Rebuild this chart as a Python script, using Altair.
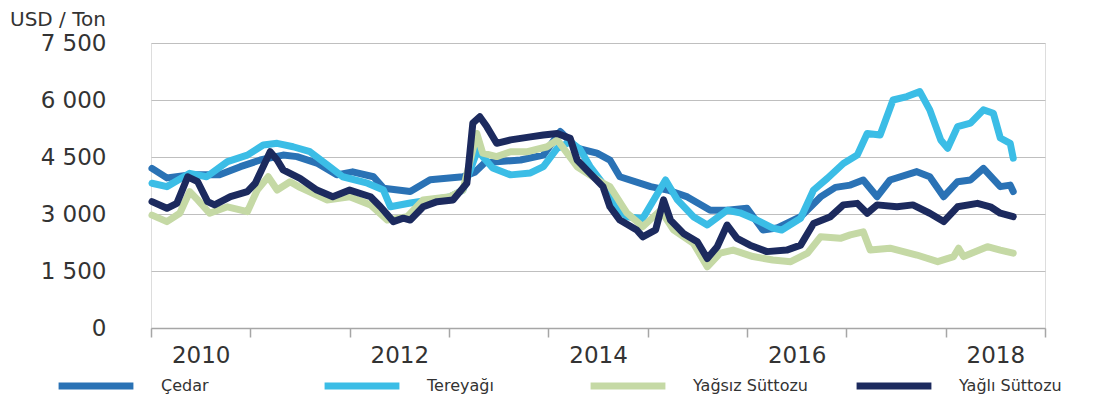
import altair as alt
import pandas as pd

# ---- data (decimal years, USD / ton) ----
cedar_x = [2010.01, 2010.16, 2010.39, 2010.69, 2010.90, 2011.10, 2011.33, 2011.47, 2011.67, 2011.87,
           2012.03, 2012.24, 2012.34, 2012.61, 2012.81, 2013.14, 2013.26, 2013.36, 2013.51, 2013.72,
           2013.95, 2014.12, 2014.29, 2014.49, 2014.62, 2014.72, 2015.03, 2015.20, 2015.40, 2015.63,
           2015.80, 2016.00, 2016.16, 2016.30, 2016.54, 2016.74, 2016.89, 2017.04, 2017.17, 2017.31,
           2017.44, 2017.71, 2017.84, 2017.98, 2018.12, 2018.25, 2018.38, 2018.55, 2018.65, 2018.68]
cedar_y = [4200, 3950, 4030, 4030, 4245, 4420, 4550, 4510, 4340, 4030,
           4110, 3980, 3680, 3590, 3900, 3980, 4100, 4350, 4380, 4420,
           4550, 5170, 4730, 4600, 4420, 3980, 3720, 3630, 3450, 3100,
           3100, 3150, 2580, 2630, 2930, 3450, 3700, 3760, 3895, 3455,
           3895, 4115, 3980, 3455, 3850, 3895, 4200, 3720, 3760, 3590]

butter_x = [2010.01, 2010.16, 2010.39, 2010.56, 2010.77, 2010.97, 2011.13, 2011.27, 2011.43, 2011.60,
            2011.80, 2011.93, 2012.18, 2012.34, 2012.41, 2012.61, 2012.81, 2013.01, 2013.14, 2013.29,
            2013.34, 2013.44, 2013.62, 2013.82, 2013.95, 2014.09, 2014.22, 2014.32, 2014.42, 2014.55,
            2014.67, 2014.79, 2014.95, 2015.18, 2015.30, 2015.46, 2015.60, 2015.80, 2015.93, 2016.06,
            2016.26, 2016.35, 2016.54, 2016.67, 2016.81, 2016.97, 2017.11, 2017.21, 2017.34, 2017.47,
            2017.61, 2017.74, 2017.84, 2017.95, 2018.02, 2018.12, 2018.25, 2018.38, 2018.48, 2018.55,
            2018.65, 2018.68]
butter_y = [3810, 3720, 4070, 3980, 4380, 4550, 4815, 4860, 4770, 4640,
            4245, 3980, 3810, 3630, 3190, 3290, 3370, 3450, 3630, 4700,
            4510, 4210, 4030, 4080, 4245, 4730, 4900, 4700, 4250, 3800,
            3200, 2930, 2880, 3895, 3370, 2930, 2710, 3100, 3030, 2890,
            2630, 2580, 2890, 3630, 3940, 4330, 4550, 5120, 5080, 6000,
            6090, 6220, 5740, 4950, 4730, 5300, 5390, 5740, 5650, 5000,
            4860, 4470]

smp_x = [2010.01, 2010.16, 2010.29, 2010.39, 2010.47, 2010.59, 2010.77, 2010.97, 2011.07, 2011.18,
         2011.27, 2011.40, 2011.50, 2011.77, 2012.00, 2012.21, 2012.38, 2012.58, 2012.74, 2013.01,
         2013.14, 2013.28, 2013.34, 2013.48, 2013.62, 2013.79, 2013.99, 2014.09, 2014.29, 2014.55,
         2014.62, 2014.79, 2014.95, 2015.13, 2015.26, 2015.46, 2015.60, 2015.73, 2015.86, 2016.06,
         2016.26, 2016.44, 2016.61, 2016.74, 2016.94, 2017.04, 2017.17, 2017.24, 2017.44, 2017.71,
         2017.92, 2018.08, 2018.13, 2018.18, 2018.42, 2018.55, 2018.68]
smp_y = [2970, 2800, 3020, 3590, 3370, 3020, 3190, 3060, 3630, 3980,
         3630, 3850, 3700, 3370, 3455, 3240, 2840, 2930, 3370, 3455,
         3630, 5120, 4600, 4510, 4640, 4640, 4770, 4950, 4245, 3810,
         3720, 3030, 2665, 3100, 2580, 2230, 1610, 1970, 2050, 1880,
         1790, 1745, 1970, 2400, 2360, 2450, 2530, 2050, 2100, 1920,
         1745, 1880, 2100, 1880, 2140, 2050, 1970]

wmp_x = [2010.01, 2010.16, 2010.26, 2010.37, 2010.47, 2010.57, 2010.64, 2010.80, 2010.97, 2011.05,
         2011.20, 2011.27, 2011.33, 2011.50, 2011.67, 2011.83, 2012.00, 2012.21, 2012.31, 2012.44,
         2012.54, 2012.61, 2012.74, 2012.88, 2013.04, 2013.18, 2013.24, 2013.31, 2013.38, 2013.48,
         2013.62, 2013.82, 2013.95, 2014.09, 2014.22, 2014.29, 2014.42, 2014.55, 2014.62, 2014.72,
         2014.89, 2014.95, 2015.08, 2015.16, 2015.23, 2015.36, 2015.50, 2015.60, 2015.70, 2015.80,
         2015.90, 2016.03, 2016.20, 2016.40, 2016.54, 2016.67, 2016.84, 2016.97, 2017.11, 2017.21,
         2017.31, 2017.51, 2017.67, 2017.84, 2017.98, 2018.12, 2018.32, 2018.45, 2018.55, 2018.68]
wmp_y = [3325, 3150, 3280, 3980, 3850, 3325, 3240, 3455, 3590, 3810,
         4640, 4420, 4160, 3940, 3630, 3455, 3630, 3455, 3190, 2800,
         2890, 2840, 3190, 3325, 3370, 3810, 5390, 5560, 5300, 4860,
         4950, 5030, 5080, 5120, 4990, 4420, 4070, 3720, 3190, 2840,
         2580, 2400, 2580, 3370, 2840, 2490, 2270, 1830, 2140, 2710,
         2360, 2180, 2010, 2050, 2180, 2750, 2930, 3240, 3280, 3020,
         3240, 3190, 3240, 3020, 2800, 3190, 3280, 3190, 3020, 2930]

series_names = ["Çedar", "Tereyağı", "Yağsız Süttozu", "Yağlı Süttozu"]
series_colors = ["#2a72b5", "#3bbde6", "#c5d9a5", "#1c2a5e"]
y_ticks = [0, 1500, 3000, 4500, 6000, 7500]
year_ticks = list(range(2010, 2020))

rows = []
for name, xs, ys in zip(series_names,
                        [cedar_x, butter_x, smp_x, wmp_x],
                        [cedar_y, butter_y, smp_y, wmp_y]):
    for i, (a, b) in enumerate(zip(xs, ys)):
        rows.append({"year": a, "value": b, "series": name, "order": i})
df = pd.DataFrame(rows)

FONT = "DejaVu Sans"

lines = alt.Chart(df).mark_line(strokeWidth=7, strokeJoin="round", strokeCap="round").encode(
    x=alt.X("year:Q",
            scale=alt.Scale(domain=[2010, 2019], nice=False, zero=False),
            axis=alt.Axis(values=year_ticks, title=None, grid=False,
                          labelExpr="(datum.value % 2 == 0 && datum.value < 2019) ? format(datum.value, 'd') : ''",
                          labelOffset=49.7, labelPadding=7, labelFlush=False,
                          labelFont=FONT, labelFontSize=23, labelColor="#333333",
                          domainColor="#a6a6a6", domainWidth=1.5,
                          tickColor="#a6a6a6", tickSize=9, tickWidth=1.5)),
    y=alt.Y("value:Q",
            scale=alt.Scale(domain=[0, 7500], nice=False),
            axis=alt.Axis(values=y_ticks, title=None, domain=False, ticks=False,
                          labelExpr="replace(format(datum.value, ','), ',', ' ')",
                          labelPadding=45, labelFlush=False,
                          labelFont=FONT, labelFontSize=23, labelColor="#333333",
                          gridColor="#bfbfbf", gridWidth=1.2)),
    color=alt.Color("series:N",
                    scale=alt.Scale(domain=series_names, range=series_colors),
                    legend=alt.Legend(title=None, orient="none", legendX=-96, legendY=302,
                                      direction="horizontal", columns=4, gridAlign="all",
                                      symbolType="stroke", symbolSize=5600, symbolStrokeWidth=7,
                                      labelOffset=24, columnPadding=34,
                                      labelFont=FONT, labelFontSize=16, labelColor="#333333",
                                      labelLimit=300)),
    order="order:Q",
)

title = alt.Chart(pd.DataFrame({"t": ["USD / Ton"]})).mark_text(
    align="left", baseline="top", font=FONT, fontSize=20, color="#333333"
).encode(x=alt.value(-141), y=alt.value(-33), text="t:N")

chart = alt.layer(lines, title).properties(
    width=894, height=285,
    autosize=alt.AutoSizeParams(type="none"),
    padding={"left": 143, "top": 35, "right": 57, "bottom": 66},
).configure_view(stroke=None).configure(background="white")

chart.save("out.html", embed_options={"renderer": "svg", "actions": False})
